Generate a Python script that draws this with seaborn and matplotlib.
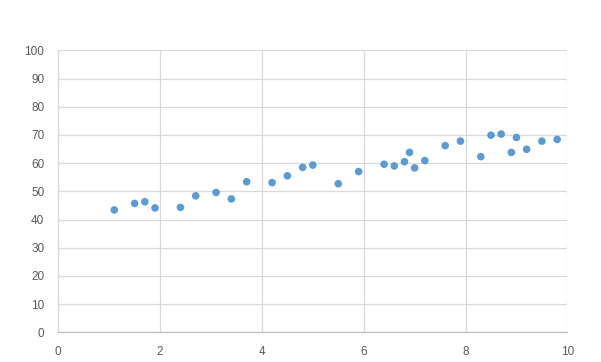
import matplotlib
matplotlib.use("Agg")
import matplotlib.pyplot as plt
import seaborn as sns
import pandas as pd

x_values = [1.1, 1.5, 1.7, 1.9, 2.4, 2.7, 3.1, 3.4, 3.7, 4.2, 4.5, 4.8, 5.0, 5.5, 5.9,
            6.4, 6.6, 6.8, 6.9, 7.0, 7.2, 7.6, 7.9, 8.3, 8.5, 8.7, 8.9, 9.0, 9.2, 9.5, 9.8]
y_values = [43.4, 45.7, 46.3, 44.1, 44.3, 48.4, 49.6, 47.3, 53.4, 53.1, 55.5, 58.5, 59.3, 52.7, 57.0,
            59.6, 59.0, 60.5, 63.8, 58.3, 60.9, 66.2, 67.8, 62.3, 69.9, 70.3, 63.8, 69.1, 64.9, 67.8, 68.4]
x_ticks = [0, 2, 4, 6, 8, 10]
y_ticks = [0, 10, 20, 30, 40, 50, 60, 70, 80, 90, 100]

df = pd.DataFrame({"x": x_values, "y": y_values})

sns.set_theme(style="white")
plt.rcParams['font.family'] = ['Liberation Sans', 'DejaVu Sans']

fig = plt.figure(figsize=(6.01, 3.62), dpi=100)
ax = fig.add_axes([0.097, 0.082, 0.847, 0.779])

sns.scatterplot(data=df, x="x", y="y", ax=ax, color="#5B9BD5", s=30,
                edgecolor="none", linewidth=0, zorder=3)

ax.set_xlim(0, 10)
ax.set_ylim(0, 100)
ax.set_xticks(x_ticks)
ax.set_yticks(y_ticks)
ax.set_xlabel("")
ax.set_ylabel("")
ax.grid(True, color="#D9D9D9", linewidth=0.9)
ax.set_axisbelow(True)
ax.tick_params(axis="both", length=0, labelsize=8.5, colors="#595959")
ax.tick_params(axis="x", pad=10)
ax.tick_params(axis="y", pad=10)
for side in ["top", "right"]:
    ax.spines[side].set_visible(False)
ax.spines["left"].set_color("#D9D9D9")
ax.spines["bottom"].set_color("#BFBFBF")
ax.spines["left"].set_linewidth(0.9)
ax.spines["bottom"].set_linewidth(0.9)

fig.savefig("out.png", dpi=100, facecolor="white")
